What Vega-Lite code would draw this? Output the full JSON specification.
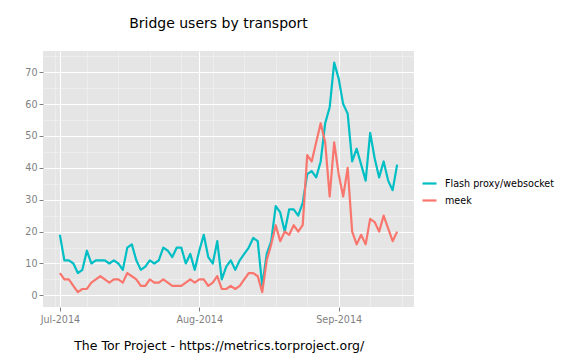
{
  "$schema": "https://vega.github.io/schema/vega-lite/v6.json",
  "width": 371,
  "height": 256,
  "autosize": {"type": "none"},
  "padding": {"left": 43, "top": 51, "right": 162, "bottom": 53},
  "background": "white",
  "title": {"text": "Bridge users by transport", "font": "DejaVu Sans", "fontSize": 14, "fontWeight": "normal", "color": "black", "anchor": "middle", "frame": "group", "dx": -10, "offset": 9, "baseline": "alphabetic"},
  "config": {
    "view": {"fill": "#E5E5E5", "stroke": null},
    "font": "DejaVu Sans"
  },
  "datasets": {
    "users": [
      {"date": "2014-07-01", "transport": "Flash proxy/websocket", "users": 19},
      {"date": "2014-07-02", "transport": "Flash proxy/websocket", "users": 11},
      {"date": "2014-07-03", "transport": "Flash proxy/websocket", "users": 11},
      {"date": "2014-07-04", "transport": "Flash proxy/websocket", "users": 10},
      {"date": "2014-07-05", "transport": "Flash proxy/websocket", "users": 7},
      {"date": "2014-07-06", "transport": "Flash proxy/websocket", "users": 8},
      {"date": "2014-07-07", "transport": "Flash proxy/websocket", "users": 14},
      {"date": "2014-07-08", "transport": "Flash proxy/websocket", "users": 10},
      {"date": "2014-07-09", "transport": "Flash proxy/websocket", "users": 11},
      {"date": "2014-07-10", "transport": "Flash proxy/websocket", "users": 11},
      {"date": "2014-07-11", "transport": "Flash proxy/websocket", "users": 11},
      {"date": "2014-07-12", "transport": "Flash proxy/websocket", "users": 10},
      {"date": "2014-07-13", "transport": "Flash proxy/websocket", "users": 11},
      {"date": "2014-07-14", "transport": "Flash proxy/websocket", "users": 10},
      {"date": "2014-07-15", "transport": "Flash proxy/websocket", "users": 8},
      {"date": "2014-07-16", "transport": "Flash proxy/websocket", "users": 15},
      {"date": "2014-07-17", "transport": "Flash proxy/websocket", "users": 16},
      {"date": "2014-07-18", "transport": "Flash proxy/websocket", "users": 11},
      {"date": "2014-07-19", "transport": "Flash proxy/websocket", "users": 8},
      {"date": "2014-07-20", "transport": "Flash proxy/websocket", "users": 9},
      {"date": "2014-07-21", "transport": "Flash proxy/websocket", "users": 11},
      {"date": "2014-07-22", "transport": "Flash proxy/websocket", "users": 10},
      {"date": "2014-07-23", "transport": "Flash proxy/websocket", "users": 11},
      {"date": "2014-07-24", "transport": "Flash proxy/websocket", "users": 15},
      {"date": "2014-07-25", "transport": "Flash proxy/websocket", "users": 14},
      {"date": "2014-07-26", "transport": "Flash proxy/websocket", "users": 12},
      {"date": "2014-07-27", "transport": "Flash proxy/websocket", "users": 15},
      {"date": "2014-07-28", "transport": "Flash proxy/websocket", "users": 15},
      {"date": "2014-07-29", "transport": "Flash proxy/websocket", "users": 10},
      {"date": "2014-07-30", "transport": "Flash proxy/websocket", "users": 13},
      {"date": "2014-07-31", "transport": "Flash proxy/websocket", "users": 8},
      {"date": "2014-08-01", "transport": "Flash proxy/websocket", "users": 14},
      {"date": "2014-08-02", "transport": "Flash proxy/websocket", "users": 19},
      {"date": "2014-08-03", "transport": "Flash proxy/websocket", "users": 12},
      {"date": "2014-08-04", "transport": "Flash proxy/websocket", "users": 10},
      {"date": "2014-08-05", "transport": "Flash proxy/websocket", "users": 17},
      {"date": "2014-08-06", "transport": "Flash proxy/websocket", "users": 5},
      {"date": "2014-08-07", "transport": "Flash proxy/websocket", "users": 9},
      {"date": "2014-08-08", "transport": "Flash proxy/websocket", "users": 11},
      {"date": "2014-08-09", "transport": "Flash proxy/websocket", "users": 8},
      {"date": "2014-08-10", "transport": "Flash proxy/websocket", "users": 11},
      {"date": "2014-08-11", "transport": "Flash proxy/websocket", "users": 13},
      {"date": "2014-08-12", "transport": "Flash proxy/websocket", "users": 15},
      {"date": "2014-08-13", "transport": "Flash proxy/websocket", "users": 18},
      {"date": "2014-08-14", "transport": "Flash proxy/websocket", "users": 17},
      {"date": "2014-08-15", "transport": "Flash proxy/websocket", "users": 3},
      {"date": "2014-08-16", "transport": "Flash proxy/websocket", "users": 13},
      {"date": "2014-08-17", "transport": "Flash proxy/websocket", "users": 17},
      {"date": "2014-08-18", "transport": "Flash proxy/websocket", "users": 28},
      {"date": "2014-08-19", "transport": "Flash proxy/websocket", "users": 26},
      {"date": "2014-08-20", "transport": "Flash proxy/websocket", "users": 20},
      {"date": "2014-08-21", "transport": "Flash proxy/websocket", "users": 27},
      {"date": "2014-08-22", "transport": "Flash proxy/websocket", "users": 27},
      {"date": "2014-08-23", "transport": "Flash proxy/websocket", "users": 25},
      {"date": "2014-08-24", "transport": "Flash proxy/websocket", "users": 29},
      {"date": "2014-08-25", "transport": "Flash proxy/websocket", "users": 38},
      {"date": "2014-08-26", "transport": "Flash proxy/websocket", "users": 39},
      {"date": "2014-08-27", "transport": "Flash proxy/websocket", "users": 37},
      {"date": "2014-08-28", "transport": "Flash proxy/websocket", "users": 42},
      {"date": "2014-08-29", "transport": "Flash proxy/websocket", "users": 54},
      {"date": "2014-08-30", "transport": "Flash proxy/websocket", "users": 59},
      {"date": "2014-08-31", "transport": "Flash proxy/websocket", "users": 73},
      {"date": "2014-09-01", "transport": "Flash proxy/websocket", "users": 68},
      {"date": "2014-09-02", "transport": "Flash proxy/websocket", "users": 60},
      {"date": "2014-09-03", "transport": "Flash proxy/websocket", "users": 57},
      {"date": "2014-09-04", "transport": "Flash proxy/websocket", "users": 42},
      {"date": "2014-09-05", "transport": "Flash proxy/websocket", "users": 46},
      {"date": "2014-09-06", "transport": "Flash proxy/websocket", "users": 41},
      {"date": "2014-09-07", "transport": "Flash proxy/websocket", "users": 36},
      {"date": "2014-09-08", "transport": "Flash proxy/websocket", "users": 51},
      {"date": "2014-09-09", "transport": "Flash proxy/websocket", "users": 43},
      {"date": "2014-09-10", "transport": "Flash proxy/websocket", "users": 37},
      {"date": "2014-09-11", "transport": "Flash proxy/websocket", "users": 42},
      {"date": "2014-09-12", "transport": "Flash proxy/websocket", "users": 36},
      {"date": "2014-09-13", "transport": "Flash proxy/websocket", "users": 33},
      {"date": "2014-09-14", "transport": "Flash proxy/websocket", "users": 41},
      {"date": "2014-07-01", "transport": "meek", "users": 7},
      {"date": "2014-07-02", "transport": "meek", "users": 5},
      {"date": "2014-07-03", "transport": "meek", "users": 5},
      {"date": "2014-07-04", "transport": "meek", "users": 3},
      {"date": "2014-07-05", "transport": "meek", "users": 1},
      {"date": "2014-07-06", "transport": "meek", "users": 2},
      {"date": "2014-07-07", "transport": "meek", "users": 2},
      {"date": "2014-07-08", "transport": "meek", "users": 4},
      {"date": "2014-07-09", "transport": "meek", "users": 5},
      {"date": "2014-07-10", "transport": "meek", "users": 6},
      {"date": "2014-07-11", "transport": "meek", "users": 5},
      {"date": "2014-07-12", "transport": "meek", "users": 4},
      {"date": "2014-07-13", "transport": "meek", "users": 5},
      {"date": "2014-07-14", "transport": "meek", "users": 5},
      {"date": "2014-07-15", "transport": "meek", "users": 4},
      {"date": "2014-07-16", "transport": "meek", "users": 7},
      {"date": "2014-07-17", "transport": "meek", "users": 6},
      {"date": "2014-07-18", "transport": "meek", "users": 5},
      {"date": "2014-07-19", "transport": "meek", "users": 3},
      {"date": "2014-07-20", "transport": "meek", "users": 3},
      {"date": "2014-07-21", "transport": "meek", "users": 5},
      {"date": "2014-07-22", "transport": "meek", "users": 4},
      {"date": "2014-07-23", "transport": "meek", "users": 4},
      {"date": "2014-07-24", "transport": "meek", "users": 5},
      {"date": "2014-07-25", "transport": "meek", "users": 4},
      {"date": "2014-07-26", "transport": "meek", "users": 3},
      {"date": "2014-07-27", "transport": "meek", "users": 3},
      {"date": "2014-07-28", "transport": "meek", "users": 3},
      {"date": "2014-07-29", "transport": "meek", "users": 4},
      {"date": "2014-07-30", "transport": "meek", "users": 5},
      {"date": "2014-07-31", "transport": "meek", "users": 4},
      {"date": "2014-08-01", "transport": "meek", "users": 5},
      {"date": "2014-08-02", "transport": "meek", "users": 5},
      {"date": "2014-08-03", "transport": "meek", "users": 3},
      {"date": "2014-08-04", "transport": "meek", "users": 4},
      {"date": "2014-08-05", "transport": "meek", "users": 6},
      {"date": "2014-08-06", "transport": "meek", "users": 2},
      {"date": "2014-08-07", "transport": "meek", "users": 2},
      {"date": "2014-08-08", "transport": "meek", "users": 3},
      {"date": "2014-08-09", "transport": "meek", "users": 2},
      {"date": "2014-08-10", "transport": "meek", "users": 3},
      {"date": "2014-08-11", "transport": "meek", "users": 5},
      {"date": "2014-08-12", "transport": "meek", "users": 7},
      {"date": "2014-08-13", "transport": "meek", "users": 7},
      {"date": "2014-08-14", "transport": "meek", "users": 6},
      {"date": "2014-08-15", "transport": "meek", "users": 1},
      {"date": "2014-08-16", "transport": "meek", "users": 11},
      {"date": "2014-08-17", "transport": "meek", "users": 16},
      {"date": "2014-08-18", "transport": "meek", "users": 22},
      {"date": "2014-08-19", "transport": "meek", "users": 17},
      {"date": "2014-08-20", "transport": "meek", "users": 20},
      {"date": "2014-08-21", "transport": "meek", "users": 19},
      {"date": "2014-08-22", "transport": "meek", "users": 22},
      {"date": "2014-08-23", "transport": "meek", "users": 20},
      {"date": "2014-08-24", "transport": "meek", "users": 22},
      {"date": "2014-08-25", "transport": "meek", "users": 44},
      {"date": "2014-08-26", "transport": "meek", "users": 42},
      {"date": "2014-08-27", "transport": "meek", "users": 48},
      {"date": "2014-08-28", "transport": "meek", "users": 54},
      {"date": "2014-08-29", "transport": "meek", "users": 48},
      {"date": "2014-08-30", "transport": "meek", "users": 31},
      {"date": "2014-08-31", "transport": "meek", "users": 48},
      {"date": "2014-09-01", "transport": "meek", "users": 38},
      {"date": "2014-09-02", "transport": "meek", "users": 31},
      {"date": "2014-09-03", "transport": "meek", "users": 40},
      {"date": "2014-09-04", "transport": "meek", "users": 20},
      {"date": "2014-09-05", "transport": "meek", "users": 16},
      {"date": "2014-09-06", "transport": "meek", "users": 19},
      {"date": "2014-09-07", "transport": "meek", "users": 16},
      {"date": "2014-09-08", "transport": "meek", "users": 24},
      {"date": "2014-09-09", "transport": "meek", "users": 23},
      {"date": "2014-09-10", "transport": "meek", "users": 20},
      {"date": "2014-09-11", "transport": "meek", "users": 25},
      {"date": "2014-09-12", "transport": "meek", "users": 21},
      {"date": "2014-09-13", "transport": "meek", "users": 17},
      {"date": "2014-09-14", "transport": "meek", "users": 20}
    ]
  },
  "data": {"name": "users"},
  "mark": {"type": "line", "strokeWidth": 2.2, "strokeJoin": "round"},
  "encoding": {
    "x": {
      "field": "date",
      "type": "temporal",
      "scale": {
        "type": "utc",
        "domain": [
          {"year": 2014, "month": 6, "date": 27, "hours": 6, "utc": true},
          {"year": 2014, "month": 9, "date": 17, "hours": 18, "utc": true}
        ]
      },
      "axis": {
        "values": [
          {"year": 2014, "month": 6, "date": 30, "utc": true},
          {"year": 2014, "month": 7, "date": 1, "utc": true},
          {"year": 2014, "month": 7, "date": 7, "utc": true},
          {"year": 2014, "month": 7, "date": 14, "utc": true},
          {"year": 2014, "month": 7, "date": 21, "utc": true},
          {"year": 2014, "month": 7, "date": 28, "utc": true},
          {"year": 2014, "month": 8, "date": 1, "utc": true},
          {"year": 2014, "month": 8, "date": 4, "utc": true},
          {"year": 2014, "month": 8, "date": 11, "utc": true},
          {"year": 2014, "month": 8, "date": 18, "utc": true},
          {"year": 2014, "month": 8, "date": 25, "utc": true},
          {"year": 2014, "month": 9, "date": 1, "utc": true},
          {"year": 2014, "month": 9, "date": 8, "utc": true},
          {"year": 2014, "month": 9, "date": 15, "utc": true}
        ],
        "labelExpr": "utcdate(datum.value) === 1 ? utcFormat(datum.value, '%b-%Y') : ''",
        "grid": true,
        "gridColor": {"condition": {"test": "utcdate(datum.value) === 1", "value": "#FFFFFF"}, "value": "#F2F2F2"},
        "gridWidth": {"condition": {"test": "utcdate(datum.value) === 1", "value": 1.1}, "value": 0.6},
        "tickOpacity": {"condition": {"test": "utcdate(datum.value) === 1", "value": 1}, "value": 0},
        "tickColor": "#7F7F7F",
        "tickSize": 4,
        "labelColor": "#7F7F7F",
        "labelFont": "DejaVu Sans",
        "labelFontSize": 9.6,
        "labelPadding": 3,
        "labelFlush": false,
        "labelOverlap": false,
        "domain": false,
        "title": "The Tor Project - https://metrics.torproject.org/",
        "titleFont": "DejaVu Sans",
        "titleFontSize": 12.5,
        "titleFontWeight": "normal",
        "titleColor": "black",
        "titleX": 175.7,
        "titleY": 42,
        "titleAlign": "center",
        "titleAnchor": "start",
        "titleBaseline": "alphabetic"
      }
    },
    "y": {
      "field": "users",
      "type": "quantitative",
      "scale": {"domain": [-3.65, 76.65], "nice": false, "zero": false},
      "axis": {
        "values": [0, 5, 10, 15, 20, 25, 30, 35, 40, 45, 50, 55, 60, 65, 70, 75],
        "labelExpr": "datum.value % 10 === 0 ? datum.label : ''",
        "grid": true,
        "gridColor": {"condition": {"test": "datum.value % 10 === 0", "value": "#FFFFFF"}, "value": "#F2F2F2"},
        "gridWidth": {"condition": {"test": "datum.value % 10 === 0", "value": 1.1}, "value": 0.6},
        "tickOpacity": {"condition": {"test": "datum.value % 10 === 0", "value": 1}, "value": 0},
        "tickColor": "#7F7F7F",
        "tickSize": 4,
        "labelColor": "#7F7F7F",
        "labelFont": "DejaVu Sans",
        "labelFontSize": 9.6,
        "labelPadding": 2,
        "labelOverlap": false,
        "labelFlush": false,
        "domain": false,
        "title": null
      }
    },
    "color": {
      "field": "transport",
      "type": "nominal",
      "scale": {"domain": ["Flash proxy/websocket", "meek"], "range": ["#00BFC4", "#F8766D"]},
      "legend": {
        "title": null,
        "orient": "none",
        "legendX": 378,
        "legendY": 124,
        "padding": 0,
        "symbolType": "stroke",
        "symbolSize": 196,
        "symbolStrokeWidth": 2.2,
        "labelFont": "DejaVu Sans",
        "labelFontSize": 9.6,
        "labelColor": "black",
        "labelOffset": 7,
        "rowPadding": 3
      }
    }
  }
}
